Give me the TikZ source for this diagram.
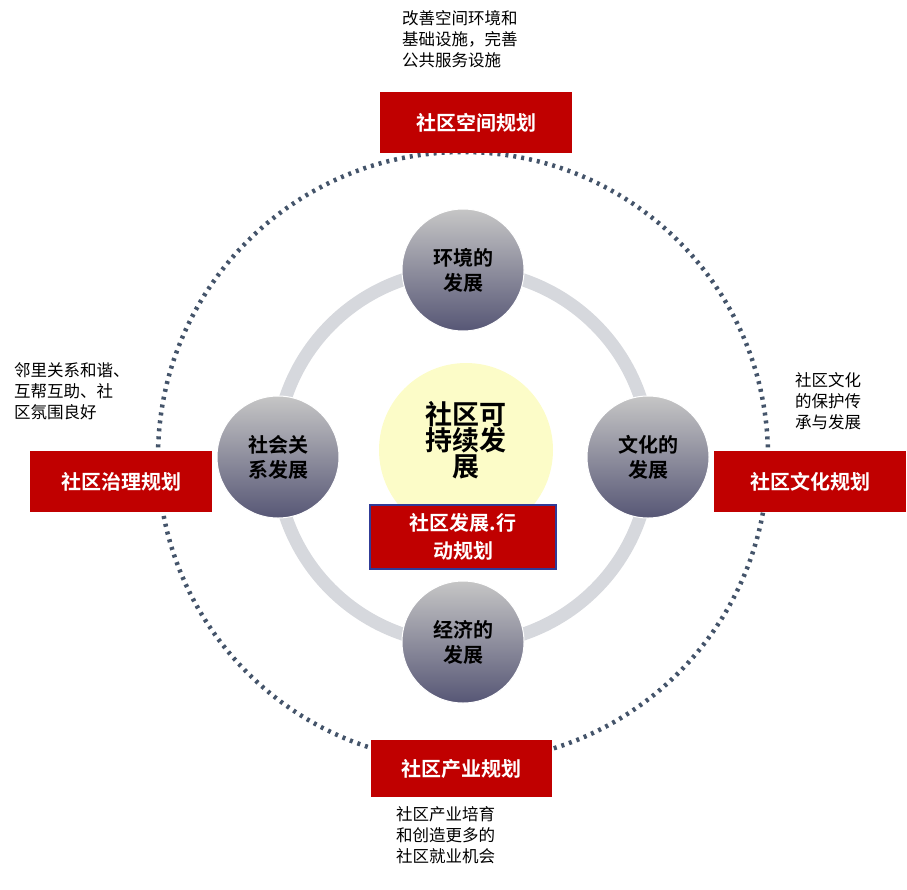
\documentclass[tikz,border=0pt]{standalone}
\usepackage{fontspec}
\setmainfont{Noto Sans CJK SC}
\newfontfamily\cjkb{Noto Sans CJK SC Bold}
\definecolor{redbox}{RGB}{192,0,0}
\definecolor{dotc}{RGB}{68,84,106}
\definecolor{ringc}{RGB}{214,216,221}
\definecolor{yel}{RGB}{252,252,200}
\begin{document}
\begin{tikzpicture}[x=1pt,y=-1pt,
  redlab/.style={fill=redbox,text=white,font=\cjkb\fontsize{20}{24}\selectfont,minimum height=61pt,inner sep=0pt,align=center},
  ball/.style={circle,minimum size=122pt,inner sep=0pt,top color=gray!45,bottom color=gray!85!blue!80!black,draw=white,line width=1pt,font=\cjkb\fontsize{20}{25}\selectfont,align=center,text=black},
  note/.style={font=\fontsize{16.5}{21}\selectfont,align=left,anchor=north west,inner sep=0pt}]
\useasboundingbox (0,0) rectangle (907,889);
\coordinate (c) at (463,457);
\draw[dotc,line width=4.5pt,dash pattern=on 3pt off 5pt] (c) circle (305);
\draw[ringc,line width=13pt] (c) circle (187);
\node[circle,fill=yel,minimum size=174pt,inner sep=0pt] (y) at (466,450) {};
\node[font=\cjkb\fontsize{27}{24}\selectfont,align=center,inner sep=0pt] (t) at (466,440) {社区可\\持续发\\展};
\node[ball] (n) at (463,270) {环境的\\发展};
\node[ball] (e) at (648,457) {文化的\\发展};
\node[ball] (s) at (463,642) {经济的\\发展};
\node[ball] (w) at (278,457) {社会关\\系发展};
\node[fill=redbox,draw=dotc!70!blue,line width=1.5pt,minimum width=186pt,minimum height=64pt,inner sep=0pt,text=white,font=\cjkb\fontsize{20}{28}\selectfont,align=center] (m) at (463,537) {社区发展.行\\动规划};
\node[redlab,minimum width=192pt] (rt) at (476,122.5) {社区空间规划};
\node[redlab,minimum width=182pt] (rl) at (121,481.5) {社区治理规划};
\node[redlab,minimum width=192pt] (rr) at (810,481.5) {社区文化规划};
\node[redlab,minimum width=181pt,minimum height=57pt] (rb) at (461.5,768.5) {社区产业规划};
\node[note] (a) at (402,10) {改善空间环境和\\基础设施，完善\\公共服务设施};
\node[note] (b) at (14,362) {邻里关系和谐、\\互帮互助、社\\区氛围良好};
\node[note] (d) at (795,372) {社区文化\\的保护传\\承与发展};
\node[note] (f) at (396,806) {社区产业培育\\和创造更多的\\社区就业机会};
\end{tikzpicture}
\end{document}
